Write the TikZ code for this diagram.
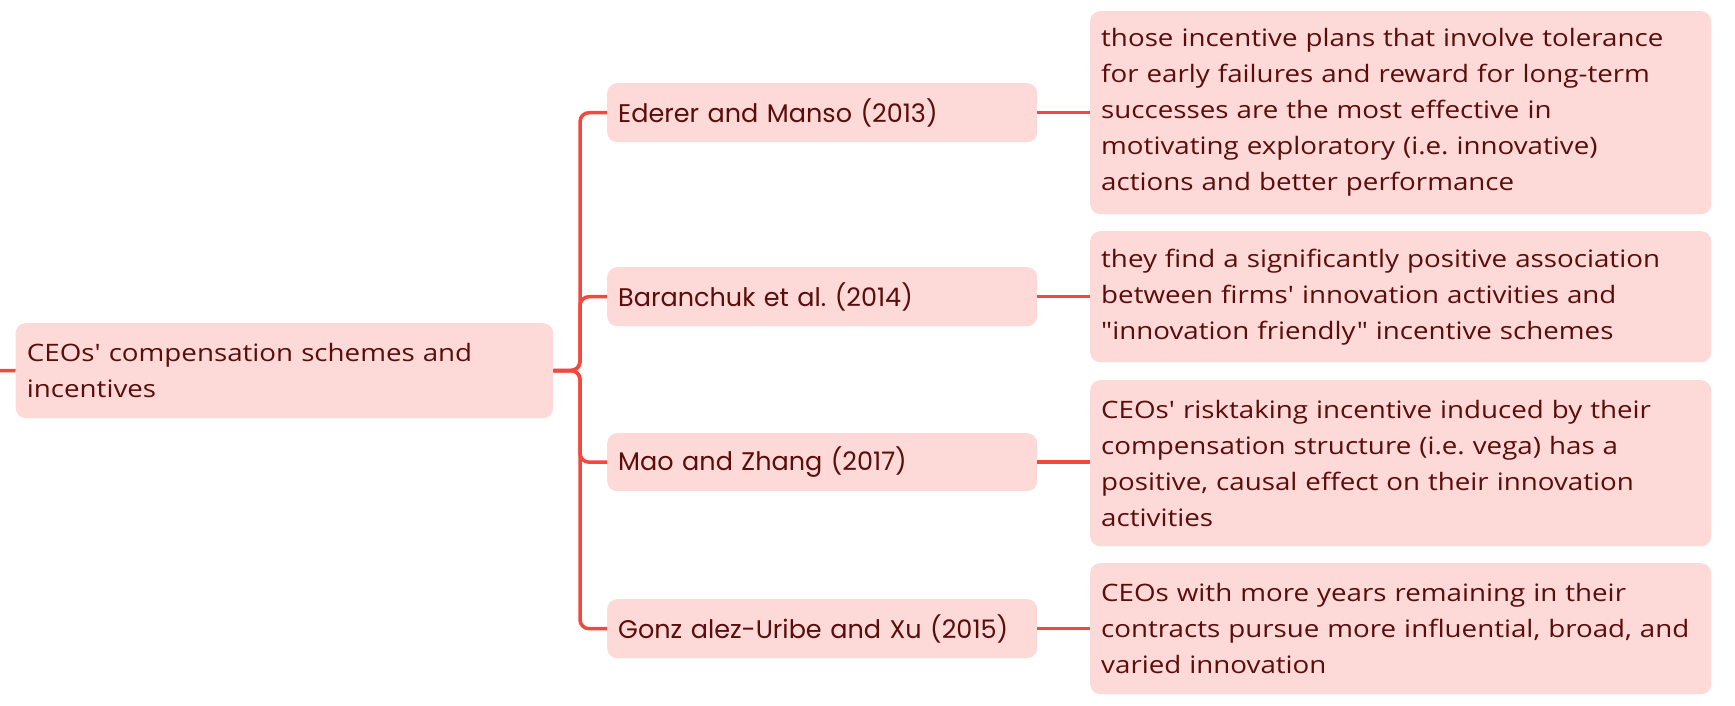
\documentclass[tikz,border=0pt]{standalone}
\usepackage{fontspec}
\setmainfont{Open Sans}[Ligatures=TeXOff,FakeStretch=1.155]
\newfontfamily\labelfont{Poppins}[Ligatures=TeXOff]
\definecolor{boxfill}{RGB}{253,218,216}
\definecolor{linkred}{RGB}{242,72,62}
\definecolor{inkred}{RGB}{92,12,10}
\begin{document}
\frenchspacing
\begin{tikzpicture}[x=1pt,y=-1pt,
  card/.style={rectangle,rounded corners=10pt,fill=boxfill,text=inkred,
    anchor=north west,align=left,inner xsep=11pt,inner ysep=0pt,
    font=\fontsize{24}{36}\selectfont},
  topic/.style={card,font=\labelfont\fontsize{25.5}{36}\selectfont},
  link/.style={draw=linkred,line width=3.5pt,rounded corners=9pt}]
\useasboundingbox (0,0) rectangle (1735,706);

% central topic
\node[card,minimum width=537.5pt,minimum height=95pt,text width=515pt] (root) at (15.5,323)
  {CEOs' compensation schemes and\\incentives};

% studies
\node[topic,minimum width=430pt,minimum height=59pt,text width=408pt] (s1) at (607,83) {Ederer and Manso (2013)};
\node[topic,minimum width=430pt,minimum height=59pt,text width=408pt] (s2) at (607,267) {Baranchuk et al. (2014)};
\node[topic,minimum width=430pt,minimum height=58pt,text width=408pt] (s3) at (607,433) {Mao and Zhang (2017)};
\node[topic,minimum width=430pt,minimum height=59pt,text width=408pt] (s4) at (607,599) {Gonz alez-Uribe and Xu (2015)};

% findings
\node[card,minimum width=621pt,minimum height=203pt,text width=599pt] (f1) at (1090,11)
  {those incentive plans that involve tolerance\\for early failures and reward for long-term\\successes are the most effective in\\motivating exploratory (i.e. innovative)\\actions and better performance};
\node[card,minimum width=621pt,minimum height=131pt,text width=599pt] (f2) at (1090,231)
  {they find a significantly positive association\\between firms' innovation activities and\\"innovation friendly" incentive schemes};
\node[card,minimum width=621pt,minimum height=166pt,text width=599pt] (f3) at (1090,380)
  {CEOs' risktaking incentive induced by their\\compensation structure (i.e. vega) has a\\positive, causal effect on their innovation\\activities};
\node[card,minimum width=621pt,minimum height=131pt,text width=599pt] (f4) at (1090,563)
  {CEOs with more years remaining in their\\contracts pursue more influential, broad, and\\varied innovation};

% connectors
\coordinate (stub) at (0,370.5);
\draw[link] (stub) -- (root.west);
\foreach \s in {s1,s2,s3,s4}
  \draw[link] (root.east) -- (580,370.5) |- (\s.west);
\foreach \s/\f in {s1/f1,s2/f2,s3/f3,s4/f4}
  \draw[link] (\s.east) -- (\f.west |- \s.east);
\end{tikzpicture}
\end{document}
